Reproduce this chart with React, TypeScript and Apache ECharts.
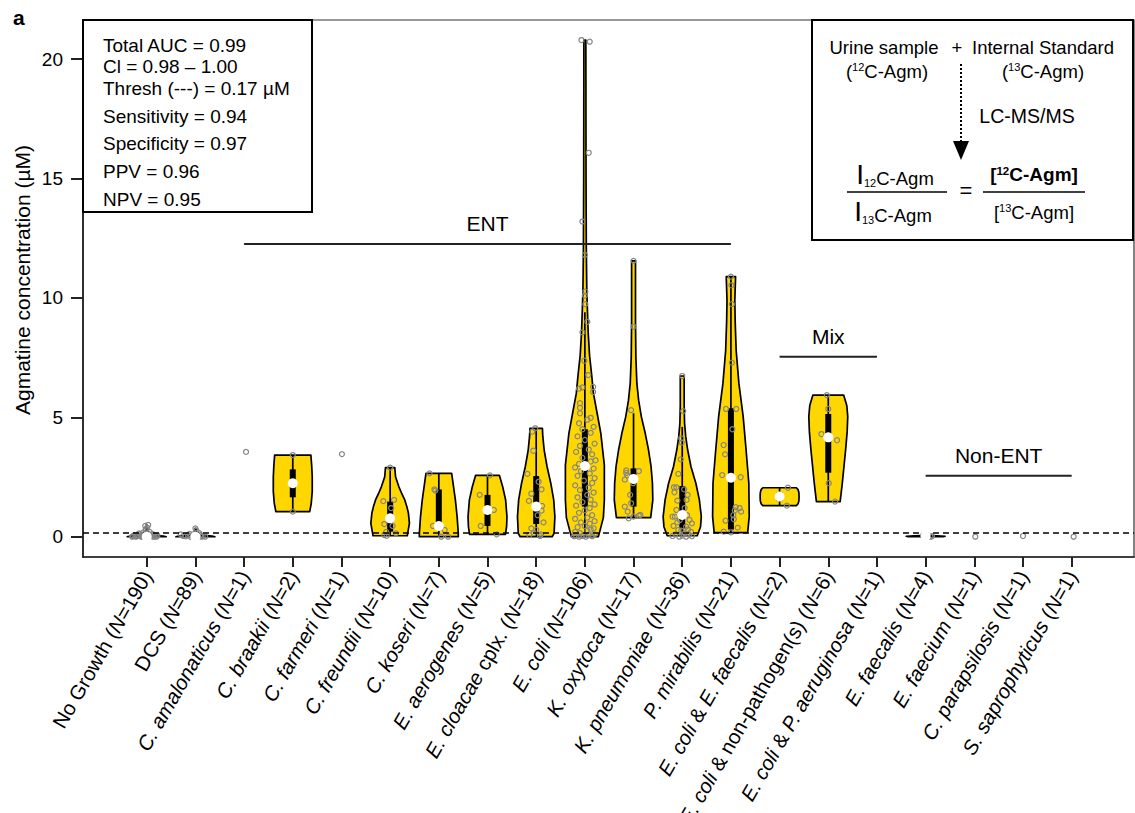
import React, { useEffect, useRef } from "react";
import * as echarts from "echarts";

const FONT = "'Liberation Sans', Arial, Helvetica, sans-serif";
const GOLD = "#FFD700";

// ---- categories / tick labels ----
const CATEGORY_LABELS = [
  "No Growth", "DCS", "*C. amalonaticus*", "*C. braakii*", "*C. farmeri*",
  "*C. freundii*", "*C. koseri*", "*E. aerogenes*", "*E. cloacae* cplx.", "*E. coli*",
  "*K. oxytoca*", "*K. pneumoniae*", "*P. mirabilis*", "*E. coli* & *E. faecalis*",
  "*E. coli* & non-pathogen(s)", "*E. coli* & *P. aeruginosa*", "*E. faecalis*",
  "*E. faecium*", "*C. parapsilosis*", "*S. saprophyticus*",
];
const CATEGORY_N = [190, 89, 1, 2, 1, 10, 7, 5, 18, 106, 17, 36, 21, 2, 6, 1, 4, 1, 1, 1];
const X_TICKS = CATEGORY_LABELS.map((_, i) => i);
const Y_TICKS = [0, 5, 10, 15, 20];
const THRESHOLD = 0.17;

// ---- violin density profiles: [value, relative half-width] ----
const P_NO_GROWTH = [[0, 1], [0.03, 0.85], [0.07, 0.3], [0.15, 0.08], [0.3, 0.04], [0.49, 0.02]];
const P_DCS = [[0, 1], [0.03, 0.85], [0.07, 0.3], [0.15, 0.08], [0.35, 0.02]];
const P_BRAAKII = [[1.05, 0.87], [1.4, 0.95], [1.9, 1.0], [2.5, 1.0], [3.0, 0.97], [3.42, 0.93]];
const P_FREUNDII = [[0.04, 0.88], [0.14, 0.9], [0.56, 0.99], [0.98, 0.94], [1.25, 0.86], [1.54, 0.75], [1.8, 0.6], [2.09, 0.45], [2.5, 0.28], [2.89, 0.24]];
const P_KOSERI = [[0, 1.0], [0.14, 1.0], [0.84, 0.94], [1.54, 0.85], [2.24, 0.73], [2.65, 0.66]];
const P_AEROGENES = [[0.1, 0.92], [0.42, 0.98], [0.84, 1.0], [1.54, 0.93], [2.09, 0.78], [2.57, 0.61]];
const P_CLOACAE = [[0, 0.82], [0.14, 0.92], [0.84, 0.96], [1.54, 0.9], [2.24, 0.75], [2.93, 0.56], [3.63, 0.41], [4.2, 0.34], [4.54, 0.32]];
const P_ECOLI = [[0, 0.69], [0.14, 0.74], [0.8, 0.95], [1.54, 1.0], [3.0, 1.0], [4.33, 0.82], [5.17, 0.63], [6.0, 0.44], [6.77, 0.35], [7.6, 0.24], [8.56, 0.17], [10.26, 0.1], [12, 0.075], [15, 0.06], [20.8, 0.05]];
const P_OXYTOCA = [[0.8, 0.88], [1.54, 0.99], [2.24, 0.97], [2.93, 0.9], [3.63, 0.77], [4.33, 0.6], [5.03, 0.4], [5.72, 0.26], [6.43, 0.17], [7.5, 0.12], [9, 0.1], [11.55, 0.1]];
const P_PNEUMONIAE = [[0.04, 0.77], [0.42, 0.94], [0.84, 0.98], [1.54, 0.88], [2.24, 0.7], [2.93, 0.45], [3.63, 0.28], [4.19, 0.18], [4.75, 0.12], [5.5, 0.1], [6.73, 0.1]];
const P_MIRABILIS = [[0.17, 0.86], [0.84, 0.94], [2.24, 0.92], [3.63, 0.78], [5.03, 0.63], [6.42, 0.41], [7.8, 0.27], [9.0, 0.22], [9.9, 0.2], [10.89, 0.24]];
const P_ECOLI_FAECALIS = [[1.3, 0.86], [1.38, 0.95], [1.5, 0.99], [1.68, 1.0], [1.85, 0.99], [1.97, 0.95], [2.05, 0.86]];
const P_MIX = [[1.47, 0.61], [2.24, 0.72], [3.63, 0.89], [4.4, 0.97], [5.03, 1.0], [5.5, 0.95], [5.93, 0.79]];
const P_FAECALIS = [[0, 0.9], [0.02, 1.0], [0.04, 0.6], [0.05, 0.2]];

const VIOLIN_CATS = [0, 1, 3, 5, 6, 7, 8, 9, 10, 11, 12, 13, 14, 16];
const VIOLIN_PROFILES = [P_NO_GROWTH, P_DCS, P_BRAAKII, P_FREUNDII, P_KOSERI, P_AEROGENES, P_CLOACAE, P_ECOLI, P_OXYTOCA, P_PNEUMONIAE, P_MIRABILIS, P_ECOLI_FAECALIS, P_MIX, P_FAECALIS];

// ---- box statistics ----
const BOX_CATS = [0, 1, 3, 5, 6, 7, 8, 9, 10, 11, 12, 13, 14, 16];
const BOX_LOW = [0, 0, 1.05, 0.04, 0, 0.1, 0, 0, 0.8, 0.04, 0.17, 1.3, 1.47, 0];
const BOX_Q1 = [0, 0, 1.65, 0.21, 0.35, 0.45, 0.53, 1.26, 1.26, 0.35, 0.3, 1.49, 2.68, 0.01];
const BOX_MEDIAN = [0, 0, 2.24, 0.77, 0.45, 1.12, 1.26, 2.96, 2.42, 0.91, 2.47, 1.68, 4.16, 0.03];
const BOX_Q3 = [0.05, 0.05, 2.82, 1.47, 1.98, 1.75, 2.54, 4.5, 2.86, 2.12, 5.38, 1.86, 5.14, 0.04];
const BOX_HIGH = [0.12, 0.1, 3.42, 2.89, 2.65, 2.57, 4.54, 9.4, 5.17, 4.6, 10.89, 2.05, 5.93, 0.05];

// ---- individual samples: [jitter, value] ----
const PTS_NO_GROWTH = [[-0.28, 0.02], [-0.22, 0.0], [-0.18, 0.05], [-0.12, 0.01], [-0.08, 0.08], [-0.04, 0.0], [0.0, 0.03], [0.05, 0.0], [0.1, 0.06], [0.15, 0.01], [0.2, 0.0], [-0.25, 0.07], [-0.15, 0.1], [-0.05, 0.12], [0.08, 0.02], [0.12, 0.11], [0.18, 0.04], [-0.2, 0.03], [-0.1, 0.0], [0.02, 0.15], [-0.02, 0.31], [-0.03, 0.45], [0.03, 0.49], [0.01, 0.38], [0.06, 0.2], [-0.07, 0.18], [0.14, 0.0], [-0.3, 0.0], [0.22, 0.05], [-0.16, 0.14]];
const PTS_DCS = [[-0.2, 0.02], [-0.15, 0.06], [-0.1, 0.0], [-0.05, 0.1], [0.0, 0.04], [0.05, 0.0], [0.1, 0.07], [0.15, 0.02], [0.2, 0.0], [-0.25, 0.03], [0.0, 0.35], [0.02, 0.25], [-0.12, 0.12], [0.08, 0.15], [-0.3, 0.1], [0.12, 0.0]];
const PTS_AMALONATICUS = [[0.04, 3.55]];
const PTS_BRAAKII = [[0.0, 3.42], [0.0, 1.05]];
const PTS_FARMERI = [[0.01, 3.46]];
const PTS_FREUNDII = [[-0.14, 1.49], [0.08, 1.54], [-0.12, 0.53], [0.12, 0.14], [-0.12, 0.07], [-0.07, 0.04], [0.0, 2.89], [0.05, 0.45], [-0.08, 0.2], [0.02, 1.2]];
const PTS_KOSERI = [[-0.19, 2.65], [-0.09, 1.98], [-0.07, 1.93], [-0.12, 0.45], [0.12, 0.28], [0.05, 0.0], [0.19, 0.0]];
const PTS_AEROGENES = [[-0.16, 1.75], [0.05, 2.57], [0.13, 1.12], [-0.14, 0.45], [0.19, 0.1]];
const PTS_CLOACAE = [[-0.02, 4.54], [-0.06, 3.6], [-0.18, 2.63], [0.11, 1.98], [-0.15, 1.5], [0.12, 1.29], [0.11, 1.09], [-0.1, 0.35], [0.0, 0.28], [-0.14, 0.07], [0.08, 0.03], [-0.08, 4.4], [0.05, 2.3], [-0.1, 1.8], [0.03, 0.9], [0.15, 0.6], [-0.05, 0.15], [0.1, 0.1]];
const PTS_ECOLI = [
  [-0.07, 20.8], [0.1, 20.73], [0.08, 16.08], [-0.05, 13.2], [0.0, 11.8], [0.01, 10.26], [0.0, 10.1], [0.01, 9.74], [0.05, 9.0], [-0.05, 8.56], [-0.01, 7.37], [0.07, 6.77], [-0.12, 6.2], [-0.05, 6.25], [0.17, 6.27], [0.17, 6.06], [-0.1, 5.59], [-0.1, 5.17], [0.12, 4.98],
  [-0.22, 0.02], [-0.18, 0.05], [-0.12, 0.0], [-0.05, 0.03], [0.02, 0.0], [0.08, 0.06], [0.15, 0.02], [0.2, 0.1], [-0.2, 0.2], [-0.1, 0.15], [0.05, 0.25], [0.12, 0.3], [0.18, 0.35], [-0.15, 0.4], [0.0, 0.45], [0.1, 0.55], [-0.08, 0.6], [0.2, 0.65], [-0.2, 0.75], [0.05, 0.8], [0.15, 0.9], [-0.12, 1.0], [0.0, 1.1], [0.1, 1.2], [-0.18, 1.3], [0.2, 1.35], [-0.05, 1.45], [0.12, 1.55], [-0.15, 1.65], [0.05, 1.75], [0.18, 1.85], [-0.1, 1.95], [0.08, 2.05], [-0.2, 2.15], [0.15, 2.25], [-0.02, 2.35], [0.2, 2.45], [-0.15, 2.55], [0.1, 2.65], [-0.08, 2.75], [0.18, 2.85], [-0.2, 2.9], [0.03, 3.0], [-0.12, 3.05], [0.12, 3.15], [0.22, 3.2], [-0.05, 3.3], [0.15, 3.45], [-0.18, 3.55], [0.08, 3.65], [-0.1, 3.8], [0.2, 3.9], [0.0, 4.05], [-0.15, 4.2], [0.12, 4.35], [-0.05, 4.5], [0.18, 4.6], [-0.12, 4.75], [0.05, 4.9], [-0.1, 5.4],
];
const PTS_OXYTOCA = [[0, 11.55], [0, 8.8], [-0.05, 5.3], [-0.15, 2.78], [-0.15, 2.67], [-0.18, 2.39], [-0.13, 2.57], [0.11, 2.75], [-0.01, 2.24], [-0.07, 1.75], [-0.05, 1.4], [-0.18, 1.26], [-0.12, 1.05], [-0.1, 0.77], [0.11, 0.88], [0.14, 0.91], [0.0, 0.84]];
const PTS_PNEUMONIAE = [[0, 6.73], [0.02, 5.26], [-0.02, 4.12], [-0.01, 3.94], [-0.03, 3.24], [-0.08, 2.63], [-0.17, 2.07], [-0.12, 2.07], [0.04, 1.98], [-0.16, 1.86], [0.11, 1.75], [-0.1, 1.51], [0.09, 1.54], [-0.12, 1.12], [0.05, 1.2], [-0.2, 0.84], [-0.15, 0.84], [0.1, 0.9], [0.15, 0.7], [-0.05, 0.7], [0.2, 0.56], [-0.1, 0.6], [0.08, 0.42], [-0.18, 0.45], [0.12, 0.3], [-0.08, 0.28], [0.18, 0.2], [-0.02, 0.25], [0.05, 0.14], [-0.14, 0.1], [0.14, 0.08], [0.0, 0.05], [-0.2, 0.03], [0.2, 0.02], [0.08, 0.0], [-0.06, 0.0]];
const PTS_MIRABILIS = [[0, 10.89], [0.01, 10.53], [0.02, 9.74], [0.02, 7.29], [-0.1, 5.35], [0.11, 5.35], [0.03, 4.5], [-0.15, 3.84], [-0.12, 3.45], [-0.18, 2.58], [0.2, 2.49], [0.1, 1.24], [0.18, 1.2], [0.08, 1.1], [0.21, 1.05], [0.06, 0.73], [-0.11, 0.67], [0.14, 0.38], [-0.15, 0.21], [0, 0.18], [0.05, 0.9]];
const PTS_ECOLI_FAECALIS = [[0.17, 2.05], [0.15, 1.3]];
const PTS_MIX = [[-0.03, 5.93], [0, 5.35], [-0.14, 4.3], [0.18, 4.04], [0.01, 2.24], [0.14, 1.47]];
const PTS_ECOLI_AERUGINOSA: number[][] = [];
const PTS_FAECALIS = [[0.13, 0.02], [0.0, 0.03], [-0.05, 0.05], [0.1, 0.0]];
const PTS_FAECIUM = [[0.02, 0.0]];
const PTS_PARAPSILOSIS = [[0.0, 0.03]];
const PTS_SAPROPHYTICUS = [[0.04, 0.0]];

const POINTS_BY_CAT = [PTS_NO_GROWTH, PTS_DCS, PTS_AMALONATICUS, PTS_BRAAKII, PTS_FARMERI, PTS_FREUNDII, PTS_KOSERI, PTS_AEROGENES, PTS_CLOACAE, PTS_ECOLI, PTS_OXYTOCA, PTS_PNEUMONIAE, PTS_MIRABILIS, PTS_ECOLI_FAECALIS, PTS_MIX, PTS_ECOLI_AERUGINOSA, PTS_FAECALIS, PTS_FAECIUM, PTS_PARAPSILOSIS, PTS_SAPROPHYTICUS];

// ---- group annotations ----
const GROUP_NAMES = ["ENT", "Mix", "Non-ENT"];
const GROUP_START = [2, 13, 16];
const GROUP_END = [12, 15, 19];
const GROUP_LEVEL = [12.26, 7.54, 2.55];

// ---- text panels ----
const STATS_LINES = ["Total AUC = 0.99", "Cl = 0.98 \u2013 1.00", "Thresh (---) = 0.17 \u00b5M", "Sensitivity = 0.94", "Specificity = 0.97", "PPV = 0.96", "NPV = 0.95"];
const STATS_Y = [45, 66, 88, 116, 143, 171, 199];

const HALF = 0.4;
const X_MIN = -1.309;
const X_MAX = 20.28;

function catLabel(i: number): string {
  const parts = CATEGORY_LABELS[i].split("*");
  let s = "";
  parts.forEach((p, k) => {
    if (p) s += `{${k % 2 ? "i" : "n"}|${p}}`;
  });
  return s + `{n| (}{i|N}{n|=${CATEGORY_N[i]})}`;
}

function buildOption(): any {
  const labelFont = 20.5;
  const pointData: number[][] = [];
  POINTS_BY_CAT.forEach((pts, c) => pts.forEach(([dx, v]) => pointData.push([c + dx, v])));

  const txt = (text: string, x: number, y: number, extra: any = {}) => ({
    type: "text",
    x,
    y,
    z: 101,
    style: {
      text,
      fill: "#000",
      fontSize: 19,
      fontFamily: FONT,
      align: "left",
      verticalAlign: "middle",
      textAlign: "left",
      textVerticalAlign: "middle",
      ...extra,
    },
  });
  const rich = {
    n: { fontSize: 18.5, fontFamily: FONT, fill: "#000", color: "#000", verticalAlign: "bottom" },
    nm: { fontSize: 18.5, fontFamily: FONT, fill: "#000", color: "#000" },
    sup: { fontSize: 11, fontFamily: FONT, fill: "#000", color: "#000", verticalAlign: "top" },
    sub: { fontSize: 11, fontFamily: FONT, fill: "#000", color: "#000", verticalAlign: "bottom" },
    big: { fontSize: 28, fontFamily: FONT, fill: "#000", color: "#000", verticalAlign: "bottom" },
    b: { fontSize: 19, fontWeight: "bold", fontFamily: FONT, fill: "#000", color: "#000" },
    bsup: { fontSize: 11.5, fontWeight: "bold", fontFamily: FONT, fill: "#000", color: "#000", verticalAlign: "top" },
  };
  const center = { align: "center", textAlign: "center" };

  const graphics: any[] = [
    txt("a", 13, 17, { fontSize: 21, fontWeight: "bold" }),
    {
      type: "text",
      x: 22,
      y: 280,
      rotation: Math.PI / 2,
      z: 101,
      style: {
        text: "Agmatine concentration (\u00b5M)",
        fill: "#000",
        fontSize: 21,
        fontFamily: FONT,
        align: "center",
        verticalAlign: "middle",
        textAlign: "center",
        textVerticalAlign: "middle",
      },
    },
    { type: "rect", z: 100, shape: { x: 83, y: 20, width: 229, height: 192 }, style: { fill: "#fff", stroke: "#000", lineWidth: 2 } },
    ...STATS_LINES.map((l, i) => txt(l, 103, STATS_Y[i])),
    { type: "rect", z: 100, shape: { x: 812, y: 20, width: 321, height: 220 }, style: { fill: "#fff", stroke: "#000", lineWidth: 2 } },
    txt("Urine sample", 884, 47, { ...center, fontSize: 18.5 }),
    txt("+", 957, 47, { ...center, fontSize: 18.5 }),
    txt("Internal Standard", 1043, 47, { ...center, fontSize: 18.5 }),
    txt("{nm|(}{sup|12}{nm|C-Agm)}", 887, 71, { ...center, rich }),
    txt("{nm|(}{sup|13}{nm|C-Agm)}", 1043, 71, { ...center, rich }),
    { type: "line", z: 101, shape: { x1: 961, y1: 64, x2: 961, y2: 142 }, style: { stroke: "#000", lineWidth: 2, lineDash: [2, 2] } },
    { type: "polygon", z: 101, shape: { points: [[953, 141], [969, 141], [961, 160]] }, style: { fill: "#000" } },
    txt("LC-MS/MS", 1027, 116, { ...center, fontSize: 19.5 }),
    txt("{big|I}{sub|12}{n|C-Agm}", 895, 174, { ...center, rich }),
    { type: "line", z: 101, shape: { x1: 847, y1: 192, x2: 947, y2: 192 }, style: { stroke: "#000", lineWidth: 1.6 } },
    txt("{big|I}{sub|13}{n|C-Agm}", 893, 211, { ...center, rich }),
    txt("=", 966, 190, { ...center, fontSize: 22 }),
    txt("{b|[}{bsup|12}{b|C-Agm]}", 1034, 174, { ...center, rich }),
    { type: "line", z: 101, shape: { x1: 983, y1: 192, x2: 1085, y2: 192 }, style: { stroke: "#000", lineWidth: 1.6 } },
    txt("{nm|[}{sup|13}{nm|C-Agm]}", 1034, 212, { ...center, rich }),
  ];

  return {
    animation: false,
    backgroundColor: "#fff",
    textStyle: { fontFamily: FONT },
    grid: {
      left: 83,
      right: 1,
      top: 20,
      bottom: 256,
      containLabel: false,
      outerBoundsMode: "none",
      show: true,
      borderColor: "#333",
      borderWidth: 1.2,
      backgroundColor: "transparent",
    },
    xAxis: {
      type: "value",
      min: X_MIN,
      max: X_MAX,
      splitLine: { show: false },
      axisLine: { show: true, onZero: false, lineStyle: { color: "#222", width: 1.7 } },
      axisTick: { show: true, length: 10, lineStyle: { color: "#222", width: 2 }, customValues: X_TICKS },
      axisLabel: {
        customValues: X_TICKS,
        rotate: 60,
        margin: 15,
        color: "#000",
        fontSize: labelFont,
        fontFamily: FONT,
        formatter: (v: number) => catLabel(Math.round(v)),
        rich: {
          n: { fontSize: labelFont, fontFamily: FONT, color: "#000" },
          i: { fontSize: labelFont, fontFamily: FONT, color: "#000", fontStyle: "italic" },
        },
      },
    },
    yAxis: {
      type: "value",
      min: -0.85,
      max: 21.64,
      splitLine: { show: false },
      axisLine: { show: true, onZero: false, lineStyle: { color: "#222", width: 1.7 } },
      axisTick: { show: true, length: 12, lineStyle: { color: "#222", width: 2 }, customValues: Y_TICKS },
      axisLabel: { customValues: Y_TICKS, margin: 20, color: "#000", fontSize: 19, fontFamily: FONT },
    },
    graphic: { elements: graphics },
    series: [
      {
        type: "line",
        name: "threshold",
        data: [],
        z: 1,
        silent: true,
        markLine: {
          silent: true,
          symbol: ["none", "none"],
          label: { show: false },
          lineStyle: { color: "#000", width: 1.6, type: [6, 4] },
          data: [{ yAxis: THRESHOLD }],
        },
      },
      {
        type: "custom",
        name: "violins",
        z: 2,
        silent: true,
        data: VIOLIN_CATS.map((c, i) => [c, VIOLIN_PROFILES[i][0][0]]),
        renderItem: (params: any, api: any) => {
          const i = params.dataIndex;
          const c = VIOLIN_CATS[i];
          const prof = VIOLIN_PROFILES[i];
          const left = prof.map(([y, r]) => api.coord([c - r * HALF, y]));
          const right = prof.slice().reverse().map(([y, r]) => api.coord([c + r * HALF, y]));
          return {
            type: "polygon",
            shape: { points: left.concat(right) },
            style: { fill: GOLD, stroke: "#000", lineWidth: 1.7, lineJoin: "round" },
          };
        },
      },
      {
        type: "custom",
        name: "boxes",
        z: 3,
        silent: true,
        data: BOX_CATS.map((c, i) => [c, BOX_MEDIAN[i]]),
        renderItem: (params: any, api: any) => {
          const i = params.dataIndex;
          const c = BOX_CATS[i];
          const lo = api.coord([c, BOX_LOW[i]]);
          const hi = api.coord([c, BOX_HIGH[i]]);
          const q1 = api.coord([c, BOX_Q1[i]]);
          const q3 = api.coord([c, BOX_Q3[i]]);
          return {
            type: "group",
            children: [
              { type: "line", shape: { x1: lo[0], y1: lo[1], x2: hi[0], y2: hi[1] }, style: { stroke: "#000", lineWidth: 1.7 } },
              { type: "rect", shape: { x: q1[0] - 3, y: q3[1], width: 6, height: Math.max(q1[1] - q3[1], 0.5) }, style: { fill: "#000" } },
            ],
          };
        },
      },
      {
        type: "scatter",
        name: "samples",
        z: 4,
        silent: true,
        symbol: "circle",
        symbolSize: 5,
        itemStyle: { color: "rgba(0,0,0,0)", borderColor: "#858585", borderWidth: 1.2, opacity: 1 },
        data: pointData,
      },
      {
        type: "scatter",
        name: "median",
        z: 5,
        silent: true,
        symbol: "circle",
        symbolSize: 10,
        itemStyle: { color: "#ffffff", opacity: 1 },
        data: BOX_CATS.map((c, i) => [c, BOX_MEDIAN[i]]),
      },
      {
        type: "custom",
        name: "groups",
        z: 6,
        silent: true,
        data: GROUP_NAMES.map((_, i) => [GROUP_START[i], GROUP_LEVEL[i]]),
        renderItem: (params: any, api: any) => {
          const i = params.dataIndex;
          const a = api.coord([GROUP_START[i], GROUP_LEVEL[i]]);
          const b = api.coord([GROUP_END[i], GROUP_LEVEL[i]]);
          return {
            type: "group",
            children: [
              { type: "line", shape: { x1: a[0], y1: a[1], x2: b[0], y2: b[1] }, style: { stroke: "#222", lineWidth: 2 } },
              {
                type: "text",
                style: {
                  text: GROUP_NAMES[i],
                  x: (a[0] + b[0]) / 2,
                  y: a[1] - 20,
                  fill: "#000",
                  fontSize: 21,
                  fontFamily: FONT,
                  align: "center",
                  verticalAlign: "middle",
                  textAlign: "center",
                  textVerticalAlign: "middle",
                },
              },
            ],
          };
        },
      },
    ],
  };
}

export default function App() {
  const ref = useRef<HTMLDivElement>(null);
  useEffect(() => {
    if (!ref.current) return;
    const chart = echarts.init(ref.current, null, { renderer: "svg" });
    chart.setOption(buildOption());
    return () => chart.dispose();
  }, []);
  return (
    <div
      ref={ref}
      style={{ position: "fixed", left: 0, top: 0, width: 1135, height: 813, background: "#fff" }}
    />
  );
}
